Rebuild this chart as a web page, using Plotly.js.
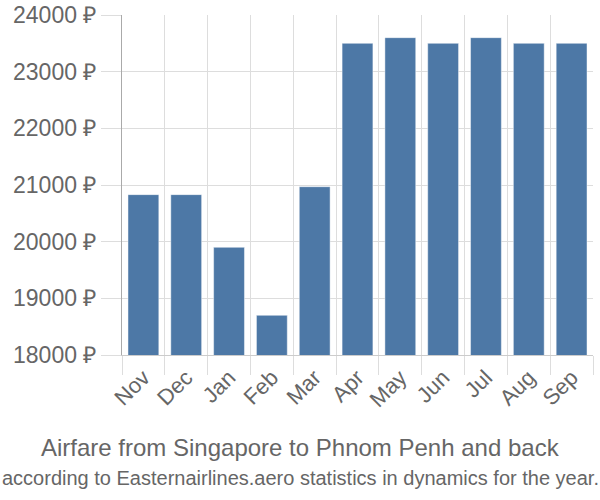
<!DOCTYPE html>
<html>
<head>
<meta charset="utf-8">
<script src="https://cdn.plot.ly/plotly-3.0.1.min.js"></script>
<style>html,body{margin:0;padding:0;background:#fff;}#chart{width:600px;height:500px;}</style>
</head>
<body>
<div id="chart"></div>
<script>
var months = ["Nov","Dec","Jan","Feb","Mar","Apr","May","Jun","Jul","Aug","Sep"];
var prices = [20830, 20830, 19900, 18700, 20970, 23500, 23600, 23500, 23600, 23500, 23500];
var yTicks = [18000, 19000, 20000, 21000, 22000, 23000, 24000];
var yTickLabels = yTicks.map(function(v){ return v + " \u20BD"; });
var titleLine1 = "Airfare from Singapore to Phnom Penh and back";
var titleLine2 = "according to Easternairlines.aero statistics in dynamics for the year.";

var trace = {
  type: "bar",
  x: months,
  y: prices,
  marker: {color: "#4d78a6", line: {color: "rgba(255,255,255,0.45)", width: 1}},
  hoverinfo: "x+y"
};

var cx = (300 - 122) / (600 - 122 - 7);
var layout = {
  width: 600, height: 500,
  margin: {l: 122, r: 7, t: 15, b: 145},
  paper_bgcolor: "#fff", plot_bgcolor: "#fff",
  font: {family: "Liberation Sans, Arial, sans-serif", color: "#666", size: 18},
  bargap: 0.28,
  showlegend: false,
  xaxis: {
    type: "category",
    tickson: "boundaries",
    ticks: "outside", ticklen: 19, tickcolor: "#ddd",
    showgrid: true, gridcolor: "#ddd", gridwidth: 1,
    showline: true, linecolor: "#ccc", linewidth: 1,
    tickangle: -45,
    tickfont: {size: 22, color: "#666"}
  },
  yaxis: {
    range: [18000, 24000],
    tickvals: yTicks, ticktext: yTickLabels,
    ticks: "outside", ticklen: 20, tickcolor: "#ddd",
    showgrid: true, gridcolor: "#ddd", gridwidth: 1,
    showline: true, linecolor: "#aaa", linewidth: 1,
    zeroline: false,
    tickfont: {size: 23, color: "#666"}
  },
  annotations: [
    {text: titleLine1, xref: "paper", yref: "paper", x: cx, xanchor: "center", y: 0, yanchor: "middle",
     yshift: -92, showarrow: false, font: {size: 24, color: "#666"}},
    {text: titleLine2, xref: "paper", yref: "paper", x: cx, xanchor: "center", y: 0, yanchor: "middle",
     yshift: -123, showarrow: false, font: {size: 20, color: "#666"}}
  ]
};

Plotly.newPlot("chart", [trace], layout, {displayModeBar: false, staticPlot: true});
</script>
</body>
</html>
